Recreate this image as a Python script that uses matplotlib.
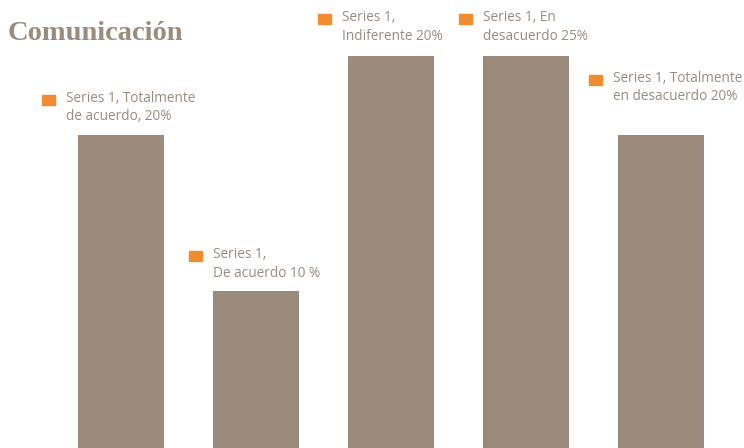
import matplotlib
matplotlib.use("Agg")
import matplotlib.pyplot as plt
from matplotlib.patches import Rectangle
from matplotlib.transforms import IdentityTransform

# datos del grafico
categorias = ["Totalmente de acuerdo", "De acuerdo", "Indiferente",
              "En desacuerdo", "Totalmente en desacuerdo"]
valores = [20, 10, 25, 25, 20]
etiquetas = ["Series 1, Totalmente\nde acuerdo, 20%",
             "Series 1,\nDe acuerdo 10 %",
             "Series 1,\nIndiferente 20%",
             "Series 1, En\ndesacuerdo 25%",
             "Series 1, Totalmente\nen desacuerdo 20%"]

# desplazamiento de cada etiqueta respecto a la esquina sup. izq. de su barra (pixeles)
offsets = [(-12, 44), (0, 44), (-6, 46), (0, 46), (-5, 64)]

color_barra = "#9A8B7C"
color_texto = "#968B80"
color_cuadro = "#F28C30"

fig = plt.figure(figsize=(7.44, 4.48), dpi=100)
ax = fig.add_axes([0, 0, 1, 1])

x = list(range(len(valores)))
ancho = 0.64
ax.bar(x, valores, width=ancho, color=color_barra)

ax.set_xlim(-0.896, 4.615)
ax.set_ylim(0, 28.6)
ax.axis("off")

fig.canvas.draw()
for i, v in enumerate(valores):
    px, py = ax.transData.transform((x[i] - ancho / 2, v))
    dx, dy = offsets[i]
    tx, ty = px + dx, py + dy
    ax.text(tx, ty, etiquetas[i], transform=IdentityTransform(),
            ha="left", va="top", fontsize=9.8, family="Open Sans",
            color=color_texto, linespacing=1.32)
    # cuadro naranja de la leyenda
    fig.patches.append(Rectangle((tx - 24, ty - 14), 13, 10, color=color_cuadro,
                                 transform=IdentityTransform(), figure=fig))

fig.text(8 / 744, 1 - 34 / 448, "Comunicación", ha="left", va="center",
         fontsize=20.5, fontweight="bold", family="Liberation Serif",
         color=color_barra)

fig.savefig("out.png", dpi=100)
